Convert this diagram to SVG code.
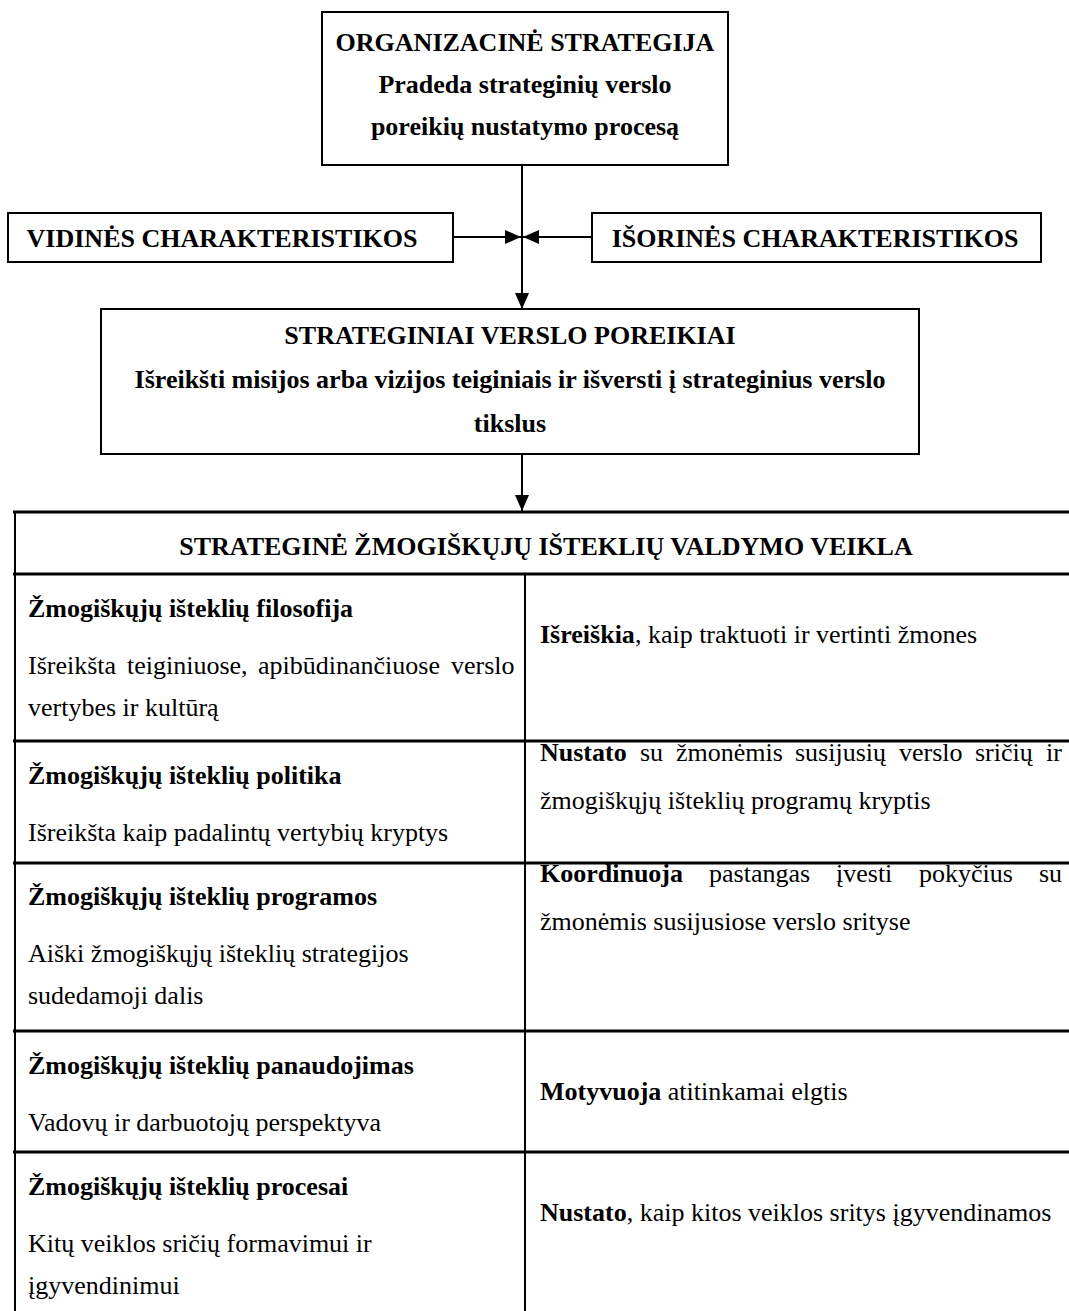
<svg xmlns="http://www.w3.org/2000/svg" width="1069" height="1311" viewBox="0 0 1069 1311">
<defs>
<style>
.box{fill:#fff;stroke:#000;stroke-width:2}
.b{font-family:"Liberation Serif","Times New Roman",serif;font-weight:bold;font-size:26px;fill:#000}
.r{font-family:"Liberation Serif","Times New Roman",serif;font-size:26px;fill:#000}
.c{text-anchor:middle}
.conn{stroke:#000;stroke-width:2;fill:none}
.hl{stroke:#000;stroke-width:3}
.vl{stroke:#000;stroke-width:2}
</style>
<marker id="ah" viewBox="0 0 16 14" refX="16" refY="7" markerWidth="16" markerHeight="14" markerUnits="userSpaceOnUse" orient="auto">
<path d="M0,0 L16,7 L0,14 Z" fill="#000"/>
</marker>
</defs>
<rect width="1069" height="1311" fill="#fff"/>

<g id="connectors">
<line class="conn" x1="522" y1="165" x2="522" y2="309" marker-end="url(#ah)"/>
<line class="conn" x1="453" y1="237" x2="521" y2="237" marker-end="url(#ah)"/>
<line class="conn" x1="592" y1="237" x2="523" y2="237" marker-end="url(#ah)"/>
<line class="conn" x1="522" y1="454" x2="522" y2="511" marker-end="url(#ah)"/>
</g>

<g id="org-strategy">
<rect class="box" x="322" y="12" width="406" height="153"/>
<text class="b c" x="525" y="51">ORGANIZACINĖ STRATEGIJA</text>
<text class="b c" x="525" y="93">Pradeda strateginių verslo</text>
<text class="b c" x="525" y="135">poreikių nustatymo procesą</text>
</g>

<g id="internal">
<rect class="box" x="8" y="213" width="445" height="49"/>
<text class="b c" x="222" y="247">VIDINĖS CHARAKTERISTIKOS</text>
</g>

<g id="external">
<rect class="box" x="592" y="213" width="449" height="49"/>
<text class="b c" x="815" y="247">IŠORINĖS CHARAKTERISTIKOS</text>
</g>

<g id="business-needs">
<rect class="box" x="101" y="309" width="818" height="145"/>
<text class="b c" x="510" y="344">STRATEGINIAI VERSLO POREIKIAI</text>
<text class="b c" x="510" y="388">Išreikšti misijos arba vizijos teiginiais ir išversti į strateginius verslo</text>
<text class="b c" x="510" y="432">tikslus</text>
</g>

<g id="hr-table">
<line class="hl" x1="13" y1="512" x2="1069" y2="512"/>
<line class="hl" x1="13" y1="574" x2="1069" y2="574"/>
<line class="hl" x1="13" y1="741" x2="1069" y2="741"/>
<line class="hl" x1="13" y1="863" x2="1069" y2="863"/>
<line class="hl" x1="13" y1="1031" x2="1069" y2="1031"/>
<line class="hl" x1="13" y1="1152" x2="1069" y2="1152"/>
<line class="vl" x1="15" y1="511" x2="15" y2="1311"/>
<line class="vl" x1="525" y1="574" x2="525" y2="1311"/>
<text class="b c" x="546" y="555">STRATEGINĖ ŽMOGIŠKŲJŲ IŠTEKLIŲ VALDYMO VEIKLA</text>
</g>

<g id="row-philosophy">
<text class="b" x="28" y="617">Žmogiškųjų išteklių filosofija</text>
<text class="r" y="674"><tspan x="28">Išreikšta</tspan><tspan x="127">teiginiuose,</tspan><tspan x="258">apibūdinančiuose</tspan><tspan x="451">verslo</tspan></text>
<text class="r" x="28" y="716">vertybes ir kultūrą</text>
<text class="r" x="540" y="643"><tspan font-weight="bold">Išreiškia</tspan>, kaip traktuoti ir vertinti žmones</text>
</g>

<g id="row-policy">
<text class="b" x="28" y="784">Žmogiškųjų išteklių politika</text>
<text class="r" x="28" y="841">Išreikšta kaip padalintų vertybių kryptys</text>
<text class="r" y="761"><tspan x="540" font-weight="bold">Nustato</tspan><tspan x="640">su</tspan><tspan x="676">žmonėmis</tspan><tspan x="795">susijusių</tspan><tspan x="899">verslo</tspan><tspan x="975">sričių</tspan><tspan x="1046">ir</tspan></text>
<text class="r" x="540" y="809">žmogiškųjų išteklių programų kryptis</text>
</g>

<g id="row-programs">
<text class="b" x="28" y="905">Žmogiškųjų išteklių programos</text>
<text class="r" x="28" y="962">Aiški žmogiškųjų išteklių strategijos</text>
<text class="r" x="28" y="1004">sudedamoji dalis</text>
<text class="r" y="882"><tspan x="540" font-weight="bold">Koordinuoja</tspan><tspan x="709">pastangas</tspan><tspan x="836">įvesti</tspan><tspan x="919">pokyčius</tspan><tspan x="1039">su</tspan></text>
<text class="r" x="540" y="930">žmonėmis susijusiose verslo srityse</text>
</g>

<g id="row-usage">
<text class="b" x="28" y="1074">Žmogiškųjų išteklių panaudojimas</text>
<text class="r" x="28" y="1131">Vadovų ir darbuotojų perspektyva</text>
<text class="r" x="540" y="1100"><tspan font-weight="bold">Motyvuoja</tspan> atitinkamai elgtis</text>
</g>

<g id="row-processes">
<text class="b" x="28" y="1195">Žmogiškųjų išteklių procesai</text>
<text class="r" x="28" y="1252">Kitų veiklos sričių formavimui ir</text>
<text class="r" x="28" y="1294">įgyvendinimui</text>
<text class="r" x="540" y="1221"><tspan font-weight="bold">Nustato</tspan>, kaip kitos veiklos sritys įgyvendinamos</text>
</g>
</svg>
